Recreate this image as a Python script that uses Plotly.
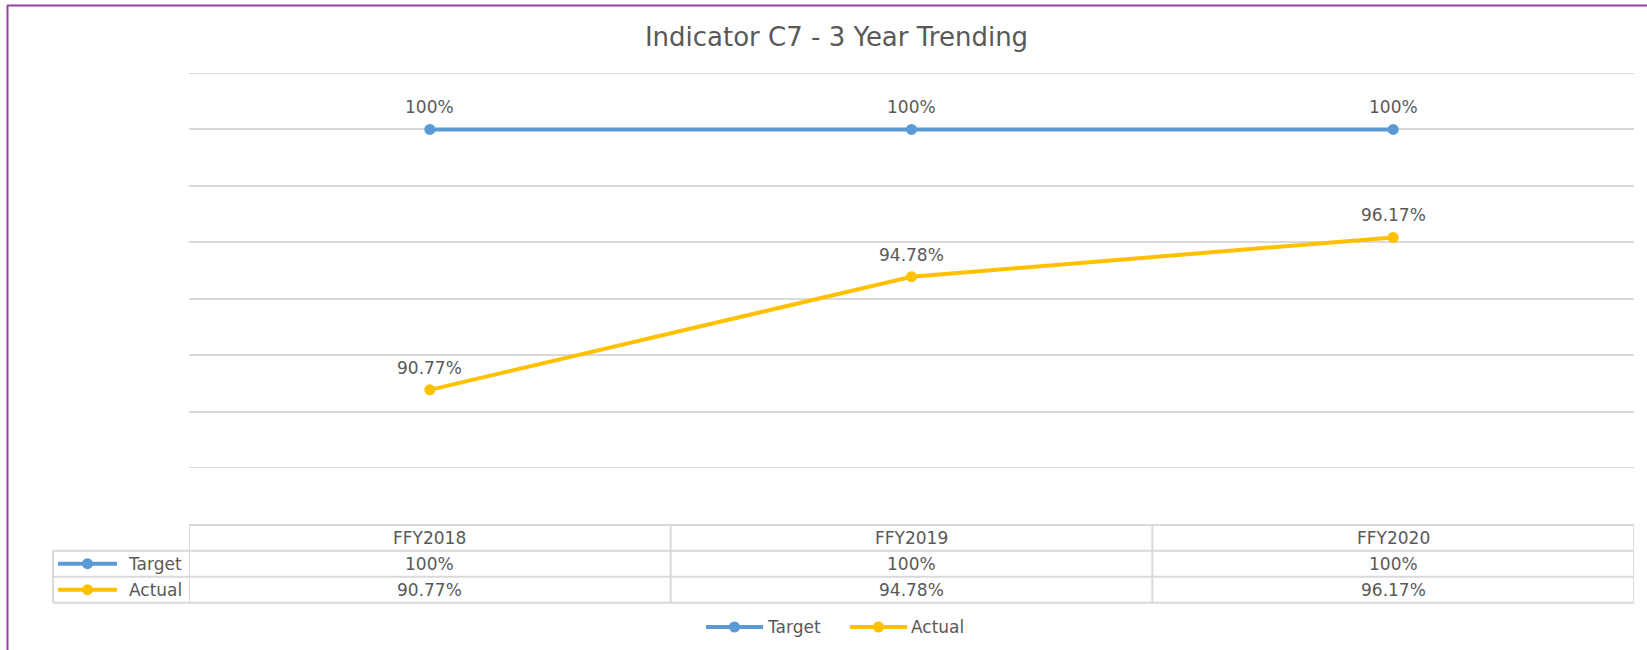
import plotly.graph_objects as go

# ---- data ----
categories = ["FFY2018", "FFY2019", "FFY2020"]
series_names = ["Target", "Actual"]
target = [100, 100, 100]
actual = [90.77, 94.78, 96.17]
target_labels = ["100%", "100%", "100%"]
actual_labels = ["90.77%", "94.78%", "96.17%"]
colors = ["#5B9BD5", "#FFC000"]
title_text = "Indicator C7 - 3 Year Trending"
y_min, y_max, y_step = 88, 102, 2

# ---- geometry helpers (pixels -> paper) ----
W, H = 1647, 650
L, R, T, B = 189, 13, 73, 182
pw, ph = W - L - R, H - T - B
def X(px):
    return (px - L) / pw
def Y(py):
    return (H - B - py) / ph

FONT = "DejaVu Sans"
TXT = "#595959"
GRID = "#D9D9D9"
FS = 17

fig = go.Figure()
values = [target, actual]
labels = [target_labels, actual_labels]
for name, vals, labs, col in zip(series_names, values, labels, colors):
    fig.add_trace(go.Scatter(
        x=categories, y=vals, mode="lines+markers", name=name,
        line=dict(color=col, width=4), marker=dict(size=11, color=col),
        showlegend=False, cliponaxis=False))
    for c, v, lab in zip(categories, vals, labs):
        fig.add_annotation(x=c, y=v, xref="x", yref="y", text=lab, showarrow=False,
                           yanchor="middle", xanchor="center",
                           yshift=22, font=dict(family=FONT, size=FS, color=TXT))

shapes = []
# edge gridlines (plotly omits gridlines on the range edges)
for yv in (y_min, y_max):
    shapes.append(dict(type="line", xref="paper", yref="y", x0=0, x1=1, y0=yv, y1=yv,
                       line=dict(color=GRID, width=2), layer="below"))

def hline(y, x0, x1, color=GRID, width=2):
    shapes.append(dict(type="line", xref="paper", yref="paper", x0=X(x0), x1=X(x1),
                       y0=Y(y), y1=Y(y), line=dict(color=color, width=width), layer="above"))
def vline_px(x, y0, y1, color=GRID, width=2):
    shapes.append(dict(type="line", xref="paper", yref="paper", x0=X(x), x1=X(x),
                       y0=Y(y0), y1=Y(y1), line=dict(color=color, width=width), layer="above"))

# ---- data table ----
y_head_top, y_r1, y_r2, y_bot = 525, 550.7, 576.7, 602.7
row_left = 53
hline(y_head_top, L, W - R)
for yy in (y_r1, y_r2, y_bot):
    hline(yy, row_left, W - R)
vline_px(row_left, y_r1, y_bot)
n = len(categories)
for i in range(n + 1):
    shapes.append(dict(type="line", xref="x", yref="paper", x0=i - 0.5, x1=i - 0.5,
                       y0=Y(y_head_top), y1=Y(y_bot), line=dict(color=GRID, width=2)))

row_centers = [(y_r1 + y_r2) / 2, (y_r2 + y_bot) / 2]
for c in categories:
    fig.add_annotation(x=c, xref="x", y=Y((y_head_top + y_r1) / 2), yref="paper", text=c,
                       xanchor="center", yanchor="middle",
                       showarrow=False, font=dict(family=FONT, size=FS, color=TXT))
for yc, labs in zip(row_centers, labels):
    for c, lab in zip(categories, labs):
        fig.add_annotation(x=c, xref="x", y=Y(yc), yref="paper", text=lab,
                           xanchor="center", yanchor="middle",
                           showarrow=False, font=dict(family=FONT, size=FS, color=TXT))

def legend_symbol(x0, x1, yc, col):
    shapes.append(dict(type="line", xref="paper", yref="paper", x0=X(x0), x1=X(x1),
                       y0=Y(yc), y1=Y(yc), line=dict(color=col, width=4)))
    shapes.append(dict(type="circle", xref="paper", yref="paper",
                       xsizemode="pixel", ysizemode="pixel",
                       xanchor=X((x0 + x1) / 2), yanchor=Y(yc),
                       x0=-5.5, x1=5.5, y0=-5.5, y1=5.5,
                       fillcolor=col, line=dict(color=col, width=0)))

for yc, name, col in zip(row_centers, series_names, colors):
    legend_symbol(58, 117, yc, col)
    fig.add_annotation(x=X(184), xref="paper", y=Y(yc), yref="paper", text=name,
                       xanchor="right", yanchor="middle", showarrow=False,
                       font=dict(family=FONT, size=FS, color=TXT))

# ---- bottom legend ----
leg_y = 627
leg_pos = [(706, 763, 765), (850, 907, 909)]
for (a, b, t), name, col in zip(leg_pos, series_names, colors):
    legend_symbol(a, b, leg_y, col)
    fig.add_annotation(x=X(t), xref="paper", y=Y(leg_y), yref="paper", text=name,
                       xanchor="left", yanchor="middle", showarrow=False,
                       font=dict(family=FONT, size=FS, color=TXT))

# ---- purple frame (top & left) ----
shapes.append(dict(type="line", xref="paper", yref="paper", x0=X(7), x1=X(W + 5),
                   y0=Y(5.5), y1=Y(5.5), line=dict(color="#9440A8", width=2)))
shapes.append(dict(type="line", xref="paper", yref="paper", x0=X(7.5), x1=X(7.5),
                   y0=Y(5.5), y1=Y(H + 5), line=dict(color="#9440A8", width=2)))

fig.update_layout(
    width=W, height=H,
    margin=dict(l=L, r=R, t=T, b=B, autoexpand=False),
    paper_bgcolor="white", plot_bgcolor="white",
    showlegend=False,
    shapes=shapes,
    title=dict(text=title_text, xref="container", yref="container",
               x=836.5 / W, y=1 - 37 / H, xanchor="center", yanchor="middle",
               font=dict(family=FONT, size=26, color=TXT)),
    xaxis=dict(type="category", range=[-0.5, n - 0.5], showgrid=False, showticklabels=False,
               showline=False, zeroline=False, ticks=""),
    yaxis=dict(range=[y_min, y_max], tick0=y_min, dtick=y_step, showgrid=True, gridcolor=GRID,
               gridwidth=1.5, showticklabels=False, zeroline=False, showline=False, ticks=""),
)

fig.write_html("out.html", config={"displayModeBar": False},
               post_script="document.body.style.margin='0';document.body.style.overflow='hidden';")
